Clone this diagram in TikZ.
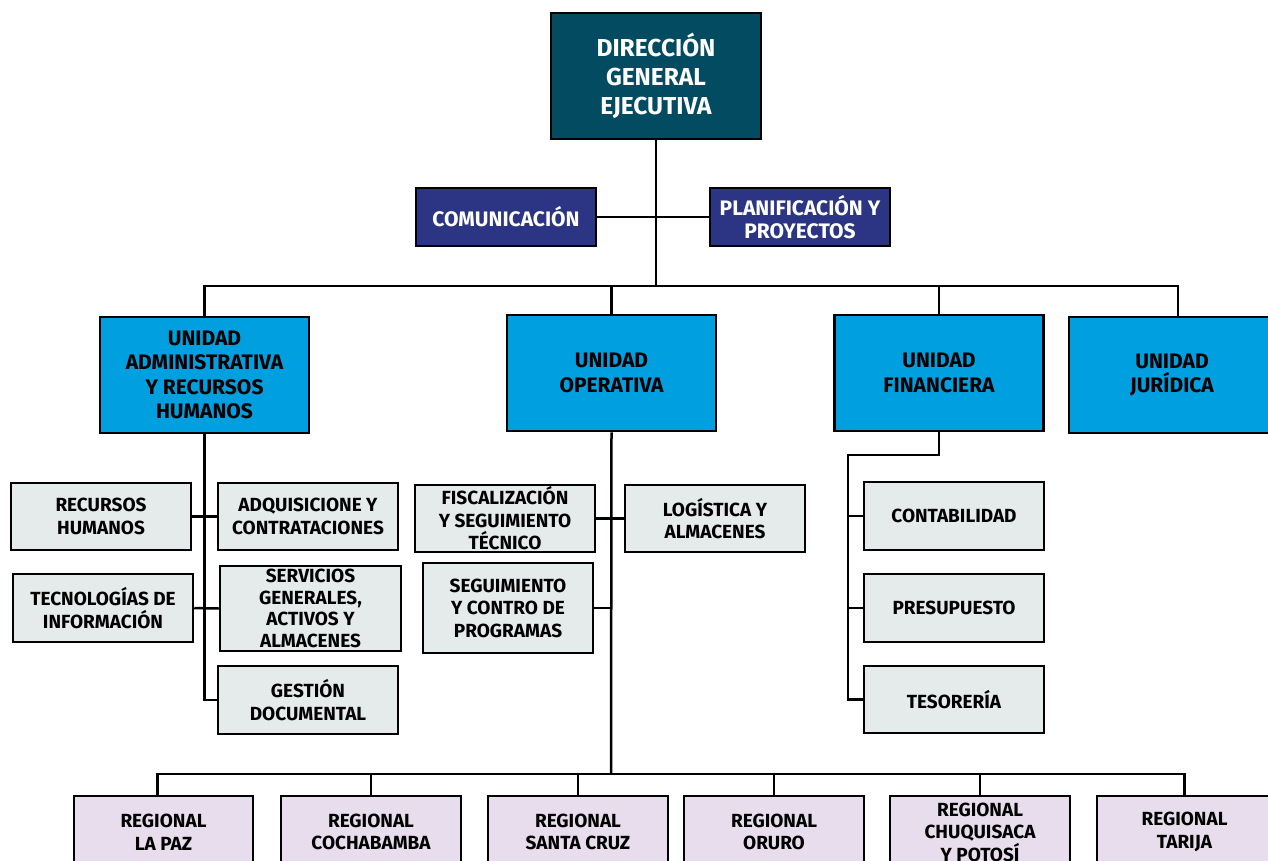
\documentclass[tikz,border=0pt]{standalone}
\usepackage{fontspec}
\setmainfont{Fira Sans}
\usepackage{tikz}

\definecolor{dgeteal}{HTML}{034B60}
\definecolor{staffblue}{HTML}{2B3584}
\definecolor{unitblue}{HTML}{009FE0}
\definecolor{subgrey}{HTML}{E4EBEA}
\definecolor{reglila}{HTML}{E7DDEC}

\begin{document}
\begin{tikzpicture}[x=1pt,y=-1pt,line width=2.5pt]
\tikzstyle{every node}+=[inner sep=0pt,align=center,font=\bfseries\fontsize{19}{22.5}\selectfont]
\tikzstyle{head}=[draw,fill=dgeteal,text=white,minimum width=210,minimum height=126,font=\bfseries\fontsize{24.5}{29}\selectfont]
\tikzstyle{staff}=[draw,fill=staffblue,text=white,minimum width=180,minimum height=58,font=\bfseries\fontsize{21}{23}\selectfont]
\tikzstyle{unit}=[draw,fill=unitblue,minimum width=209,minimum height=116,font=\bfseries\fontsize{21}{24.5}\selectfont]
\tikzstyle{sub}=[draw,fill=subgrey,minimum width=180,minimum height=67]
\tikzstyle{regional}=[draw,fill=reglila,minimum width=180,minimum height=72]
\useasboundingbox (0,0) rectangle (1268,860);
% direccion
\node [head] (dge) at (656,76) {DIRECCIÓN\\GENERAL\\EJECUTIVA};
\node [staff] (com) at (506,217) {COMUNICACIÓN};
\node [staff] (plan) at (800,217) {PLANIFICACIÓN Y\\PROYECTOS};
% unidades
\node [unit] (ua) at (204.5,375) {UNIDAD\\ADMINISTRATIVA\\Y RECURSOS\\HUMANOS};
\node [unit] (uo) at (611.5,373) {UNIDAD\\OPERATIVA};
\node [unit] (uf) at (939,373) {UNIDAD\\FINANCIERA};
\node [unit,minimum width=206] (uj) at (1172,375) {UNIDAD\\JURÍDICA};
% administrativa
\node [sub] (rh) at (101,516.5) {RECURSOS\\HUMANOS};
\node [sub] (adq) at (308,516.5) {ADQUISICIONE Y\\CONTRATACIONES};
\node [sub,minimum height=68] (tec) at (103,608) {TECNOLOGÍAS DE\\INFORMACIÓN};
\node [sub,minimum width=181,minimum height=85,font=\bfseries\fontsize{19}{21.5}\selectfont] (serv) at (310.5,608.5) {SERVICIOS\\GENERALES,\\ACTIVOS Y\\ALMACENES};
\node [sub,minimum height=68] (gd) at (308,700) {GESTIÓN\\DOCUMENTAL};
% operativa
\node [sub] (fis) at (505,518.5) {FISCALIZACIÓN\\Y SEGUIMIENTO\\TÉCNICO};
\node [sub] (log) at (715,518.5) {LOGÍSTICA Y\\ALMACENES};
\node [sub,minimum width=170,minimum height=90] (seg) at (508,608) {SEGUIMIENTO\\Y CONTRO DE\\PROGRAMAS};
% financiera
\node [sub,minimum height=68] (cont) at (954,516) {CONTABILIDAD};
\node [sub,minimum height=68] (pres) at (954,608) {PRESUPUESTO};
\node [sub] (tes) at (954,699.5) {TESORERÍA};
% regionales
\node [regional,minimum width=179] (lp) at (163.5,832) {REGIONAL\\LA PAZ};
\node [regional] (cb) at (371,832) {REGIONAL\\COCHABAMBA};
\node [regional] (sc) at (578,832) {REGIONAL\\SANTA CRUZ};
\node [regional] (or) at (774,832) {REGIONAL\\ORURO};
\node [regional] (ch) at (980,832) {REGIONAL\\CHUQUISACA\\Y POTOSÍ};
\node [regional,minimum width=175] (tj) at (1184.5,832) {REGIONAL\\TARIJA};
% lineas
\coordinate (bus) at (656,286);
\coordinate (fk) at (848,455);
\coordinate (reg) at (611,774);
\draw (dge.south) -- (bus);
\draw (com.east) -- (plan.west);
\draw (ua.north) |- (bus);
\draw ([xshift=6]uj.north) |- (bus);
\draw (uo.north) -- (uo.north |- bus);
\draw (uf.north) -- (uf.north |- bus);
\draw (ua.south) |- (gd.west);
\draw (rh.east) -- (adq.west);
\draw (tec.east) -- (serv.west);
\draw (uo.south) -- (reg);
\draw (fis.east) -- (log.west);
\draw (seg.east) -- (seg.east -| reg);
\draw (uf.south) |- (fk) |- (tes.west);
\draw (cont.west) -- (cont.west -| fk);
\draw (pres.west) -- (pres.west -| fk);
\draw ([xshift=-6]lp.north) |- (reg);
\draw (tj.north) |- (reg);
\draw (cb.north) -- (cb.north |- reg);
\draw (sc.north) -- (sc.north |- reg);
\draw (or.north) -- (or.north |- reg);
\draw (ch.north) -- (ch.north |- reg);
\end{tikzpicture}
\end{document}
